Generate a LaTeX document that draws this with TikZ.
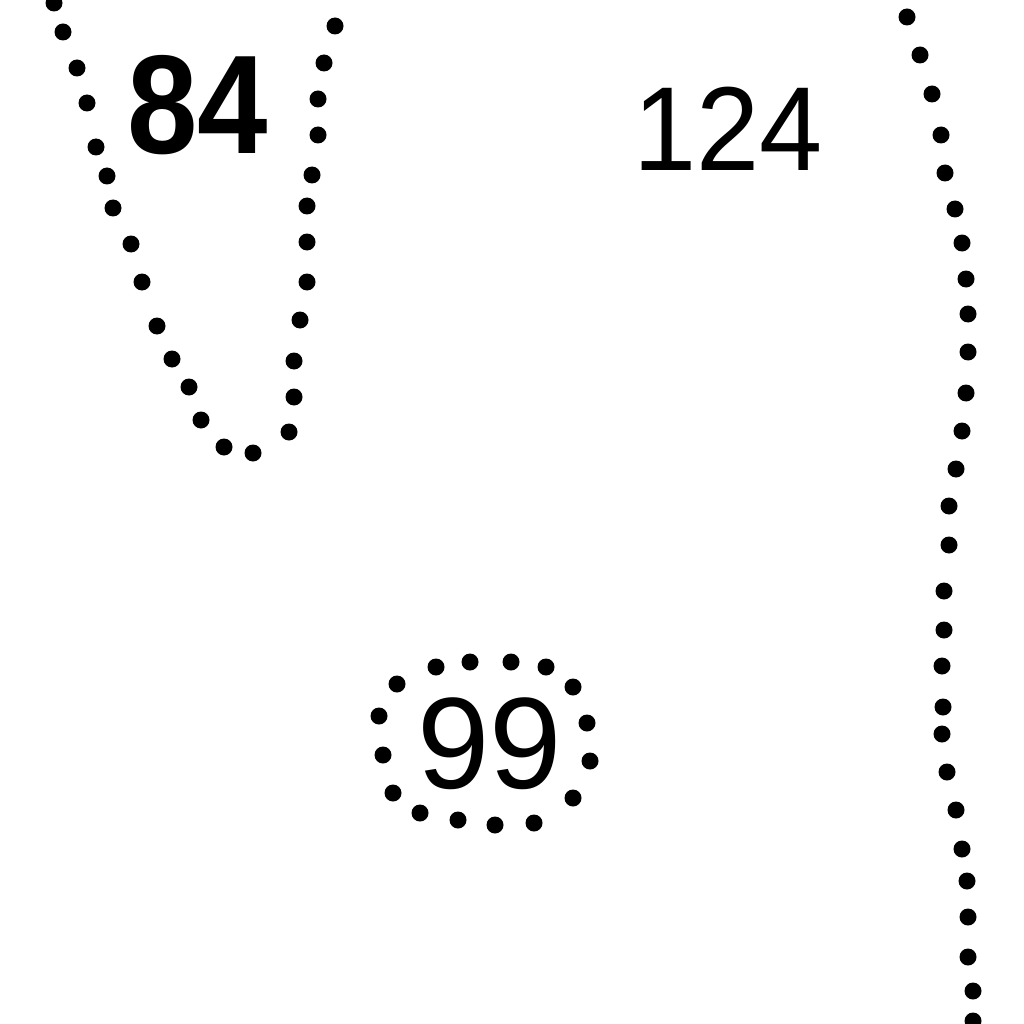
\documentclass[tikz,border=0pt]{standalone}
\usepackage{fontspec}
\usepackage{tikz}
\setmainfont{Liberation Sans}

\begin{document}
\begin{tikzpicture}[x=0.1mm,y=0.1mm]
\tikzstyle{every node}+=[inner sep=0pt]
\useasboundingbox (0,0) rectangle (1024,-1024);
% left curve
\fill [black] (54,-3) circle (0.85mm); \fill [black] (63,-32) circle (0.85mm); \fill [black] (77,-68) circle (0.85mm);
\fill [black] (87,-103) circle (0.85mm); \fill [black] (96,-147) circle (0.85mm); \fill [black] (107,-176) circle (0.85mm);
\fill [black] (113,-208) circle (0.85mm); \fill [black] (131,-244) circle (0.85mm); \fill [black] (142,-282) circle (0.85mm);
\fill [black] (157,-326) circle (0.85mm); \fill [black] (172,-359) circle (0.85mm); \fill [black] (189,-387) circle (0.85mm);
\fill [black] (201,-420) circle (0.85mm); \fill [black] (224,-447) circle (0.85mm); \fill [black] (253,-453) circle (0.85mm);
\fill [black] (289,-432) circle (0.85mm); \fill [black] (294,-397) circle (0.85mm); \fill [black] (294,-361) circle (0.85mm);
\fill [black] (300,-320) circle (0.85mm); \fill [black] (307,-282) circle (0.85mm); \fill [black] (307,-242) circle (0.85mm);
\fill [black] (307,-206) circle (0.85mm); \fill [black] (312,-175) circle (0.85mm); \fill [black] (318,-135) circle (0.85mm);
\fill [black] (318,-99) circle (0.85mm); \fill [black] (324,-63) circle (0.85mm); \fill [black] (335,-26) circle (0.85mm);
% right curve
\fill [black] (907,-17) circle (0.85mm); \fill [black] (920,-55) circle (0.85mm); \fill [black] (932,-94) circle (0.85mm);
\fill [black] (941,-135) circle (0.85mm); \fill [black] (945,-173) circle (0.85mm); \fill [black] (955,-209) circle (0.85mm);
\fill [black] (962,-243) circle (0.85mm); \fill [black] (966,-279) circle (0.85mm); \fill [black] (968,-314) circle (0.85mm);
\fill [black] (968,-352) circle (0.85mm); \fill [black] (966,-393) circle (0.85mm); \fill [black] (962,-431) circle (0.85mm);
\fill [black] (956,-469) circle (0.85mm); \fill [black] (949,-506) circle (0.85mm); \fill [black] (949,-545) circle (0.85mm);
\fill [black] (944,-591) circle (0.85mm); \fill [black] (944,-630) circle (0.85mm); \fill [black] (942,-666) circle (0.85mm);
\fill [black] (943,-707) circle (0.85mm); \fill [black] (942,-734) circle (0.85mm); \fill [black] (947,-772) circle (0.85mm);
\fill [black] (956,-810) circle (0.85mm); \fill [black] (962,-849) circle (0.85mm); \fill [black] (967,-881) circle (0.85mm);
\fill [black] (968,-917) circle (0.85mm); \fill [black] (968,-957) circle (0.85mm); \fill [black] (973,-991) circle (0.85mm);
\fill [black] (973,-1021) circle (0.85mm);
% ring round 99
\fill [black] (436,-667) circle (0.85mm); \fill [black] (470,-662) circle (0.85mm); \fill [black] (511,-662) circle (0.85mm);
\fill [black] (546,-667) circle (0.85mm); \fill [black] (573,-687) circle (0.85mm); \fill [black] (587,-723) circle (0.85mm);
\fill [black] (590,-761) circle (0.85mm); \fill [black] (573,-798) circle (0.85mm); \fill [black] (534,-823) circle (0.85mm);
\fill [black] (495,-825) circle (0.85mm); \fill [black] (458,-820) circle (0.85mm); \fill [black] (420,-813) circle (0.85mm);
\fill [black] (393,-793) circle (0.85mm); \fill [black] (383,-755) circle (0.85mm); \fill [black] (379,-716) circle (0.85mm);
\fill [black] (397,-684) circle (0.85mm);
% numbers
\node [xscale=0.9] (n84) at (198,-105) {\fontsize{40}{40}\selectfont\bfseries 84};
\node [xscale=0.95] (n124) at (728,-129) {\fontsize{34}{34}\selectfont 124};
\node (n99) at (490,-744) {\fontsize{37}{37}\selectfont 99};
\end{tikzpicture}
\end{document}
